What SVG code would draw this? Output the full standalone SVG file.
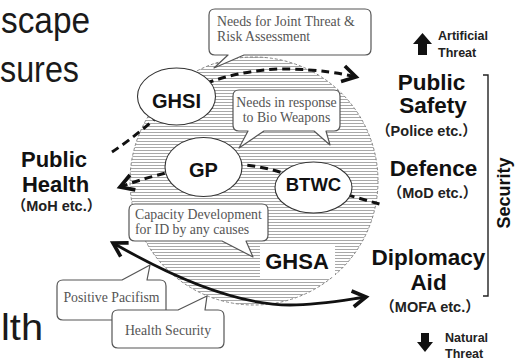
<svg xmlns="http://www.w3.org/2000/svg" width="515" height="361" viewBox="0 0 515 361">
<style>
.big{font-family:"Liberation Sans","Open Sans",sans-serif;font-size:36px;fill:#1a1a1a}
.lbl{font-family:"Liberation Sans","Noto Sans CJK JP",sans-serif;font-weight:bold;fill:#111;text-anchor:middle}
.sub{font-family:"Liberation Sans","Noto Sans CJK JP",sans-serif;font-weight:bold;fill:#222;font-size:14.5px;text-anchor:middle}
.thr{font-family:"Liberation Sans",sans-serif;font-weight:bold;fill:#222;font-size:12.5px}
.node{fill:#fff;stroke:#333;stroke-width:1.1}
.ntx{font-family:"Liberation Sans",sans-serif;font-weight:bold;fill:#111;text-anchor:middle}
.call{fill:#fff;stroke:#555;stroke-width:1.2;stroke-linejoin:round}
.ctx{font-family:"Liberation Serif",serif;font-size:13.8px;fill:#555}
.dash{fill:none;stroke:#111;stroke-width:3;stroke-dasharray:8 5}
.solid{fill:none;stroke:#111;stroke-width:2.8}
</style>
<defs>
<pattern id="hatch" width="4" height="3" patternUnits="userSpaceOnUse">
<rect width="4" height="3" fill="#fff"/>
<line x1="0" y1="0.5" x2="4" y2="0.5" stroke="#a8a8a8" stroke-width="1"/>
</pattern>
<marker id="arr" markerUnits="userSpaceOnUse" markerWidth="22" markerHeight="22" viewBox="-13 -9 15 18" refX="0" refY="0" orient="auto-start-reverse">
<path d="M-11,-6.5 L0,0 L-11,6.5" fill="none" stroke="#111" stroke-width="3" stroke-dasharray="none" stroke-linejoin="miter"/>
</marker>
</defs>
<rect width="515" height="361" fill="#fff"/>

<g id="slide-text">
<text class="big" x="1" y="32.6" textLength="89" lengthAdjust="spacingAndGlyphs">scape</text>
<text class="big" x="0" y="82" textLength="79" lengthAdjust="spacingAndGlyphs">sures</text>
<text class="big" x="1" y="340" textLength="42" lengthAdjust="spacingAndGlyphs">lth</text>
</g>

<g id="ghsa-area">
<circle cx="254" cy="181" r="124" fill="url(#hatch)" stroke="#777" stroke-width="0.9" stroke-dasharray="3 2"/>
<rect x="260" y="245" width="75" height="32" fill="#fff"/>
<text class="ntx" x="297" y="269" font-size="22">GHSA</text>
</g>

<g id="callout-joint">
<path class="call" d="M215,9 H365 Q371,9 371,15 V49 Q371,55 365,55 H244 L214,68 L228,55 H215 Q209,55 209,49 V15 Q209,9 215,9 Z"/>
<text class="ctx" x="217" y="26">Needs for Joint Threat &amp;</text>
<text class="ctx" x="217" y="41">Risk Assessment</text>
</g>

<g id="callout-bio">
<path class="call" d="M239,90 H334 Q340,90 340,96 V125 Q340,131 334,131 H326 L330,145 L314,131 H264 L239,148 L248,131 H239 Q233,131 233,125 V96 Q233,90 239,90 Z"/>
<text class="ctx" x="286.5" y="107" text-anchor="middle">Needs in response</text>
<text class="ctx" x="286.5" y="122" text-anchor="middle">to Bio Weapons</text>
</g>

<g id="callout-capacity">
<path class="call" d="M135,204 H262 Q268,204 268,210 V235 Q268,241 262,241 H246 L253,257 L222,241 H135 Q129,241 129,235 V210 Q129,204 135,204 Z"/>
<text class="ctx" x="135" y="219">Capacity Development</text>
<text class="ctx" x="135" y="234">for ID by any causes</text>
</g>

<g id="connectors">
<path class="dash" d="M112,152 C135,137 160,115 180,96 C205,80 250,68 290,69 C320,70 340,73 356,77" marker-end="url(#arr)"/>
<path class="dash" d="M120,187 C145,178 190,163 243,165 C275,167 300,180 330,190 L383,205" marker-start="url(#arr)"/>
<path class="solid" d="M113,243 C160,270 230,305 290,305 C320,305 345,300 366,297" marker-start="url(#arr)" marker-end="url(#arr)"/>
</g>

<g id="node-ghsi">
<ellipse class="node" cx="176.5" cy="96.5" rx="39" ry="28.5"/>
<text class="ntx" x="176.5" y="108" font-size="20">GHSI</text>
</g>
<g id="node-gp">
<ellipse class="node" cx="203.5" cy="167" rx="38.5" ry="29.5"/>
<text class="ntx" x="203.5" y="177" font-size="20">GP</text>
</g>
<g id="node-btwc">
<ellipse class="node" cx="313.5" cy="187.5" rx="38.5" ry="25.5"/>
<text class="ntx" x="313.5" y="191" font-size="18.5">BTWC</text>
</g>

<g id="callout-pacifism">
<path class="call" d="M63,280 H122 L150,265 L147,280 H160 Q166,280 166,286 V314 Q166,320 160,320 H63 Q57,320 57,314 V286 Q57,280 63,280 Z"/>
<text class="ctx" x="111.5" y="302" text-anchor="middle">Positive Pacifism</text>
</g>

<g id="callout-health-security">
<path class="call" d="M118,310 H178 L207,296 L205,310 H218 Q224,310 224,316 V342 Q224,348 218,348 H118 Q112,348 112,342 V316 Q112,310 118,310 Z"/>
<text class="ctx" x="168" y="335" text-anchor="middle">Health Security</text>
</g>

<g id="public-health">
<text class="lbl" x="54" y="167" font-size="22">Public</text>
<text class="lbl" x="55.5" y="192" font-size="22">Health</text>
<text class="sub" x="56.5" y="211">（MoH etc.）</text>
</g>

<g id="public-safety">
<text class="lbl" x="431.5" y="90" font-size="22.5">Public</text>
<text class="lbl" x="433" y="113" font-size="22.5">Safety</text>
<text class="sub" x="426.5" y="136">（Police etc.）</text>
</g>

<g id="defence">
<text class="lbl" x="433.5" y="176" font-size="22.5">Defence</text>
<text class="sub" x="432.5" y="198">（MoD etc.）</text>
</g>

<g id="diplomacy">
<text class="lbl" x="428.5" y="265" font-size="22.5">Diplomacy</text>
<text class="lbl" x="428.5" y="290" font-size="22.5">Aid</text>
<text class="sub" x="430" y="312">（MOFA etc.）</text>
</g>

<g id="security">
<path d="M483,75 H488 V296 H483" fill="none" stroke="#222" stroke-width="1.4"/>
<text class="lbl" transform="translate(510,193) rotate(-90)" x="0" y="0" font-size="18">Security</text>
</g>

<g id="artificial-threat">
<polygon points="422.5,33 432,44 427,44 427,55 418,55 418,44 413,44" fill="#111"/>
<text class="thr" x="438" y="40">Artificial</text>
<text class="thr" x="438" y="57">Threat</text>
</g>

<g id="natural-threat">
<polygon points="421,333 429,333 429,342 433,342 425,352 417,342 421,342" fill="#111"/>
<text class="thr" x="445" y="342">Natural</text>
<text class="thr" x="445" y="358">Threat</text>
</g>
</svg>
